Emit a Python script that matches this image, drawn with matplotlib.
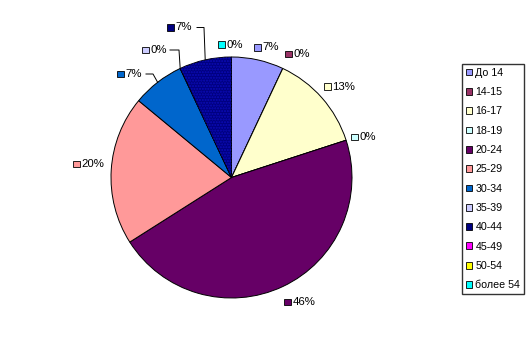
import matplotlib
matplotlib.use("Agg")
import matplotlib.pyplot as plt
from matplotlib.patches import Patch, Wedge
import numpy as np

categories = ["До 14", "14-15", "16-17", "18-19", "20-24", "25-29",
              "30-34", "35-39", "40-44", "45-49", "50-54", "более 54"]
values = [7, 0, 13, 0, 46, 20, 7, 0, 7, 0, 0, 0]
colors = ["#9999FF", "#993366", "#FFFFCC", "#CCFFFF", "#660066", "#FF9999",
          "#0066CC", "#CCCCFF", "#000080", "#FF00FF", "#FFFF00", "#00FFFF"]
# labels shown (45-49 and 50-54 labels hidden in original)
show_label = [True, True, True, True, True, True, True, True, True, False, False, True]

W, H = 531, 357
plt.rcParams['font.family'] = ['Liberation Sans', 'DejaVu Sans']
fig = plt.figure(figsize=(W / 100, H / 100), dpi=100)
cx, cy, R = 231.5, 177.5, 120.5
ax = fig.add_axes([(cx - R) / W, (H - cy - R) / H, 2 * R / W, 2 * R / H])

wedges, _ = ax.pie(values, colors=colors, startangle=90, counterclock=False,
                   radius=1.0, wedgeprops=dict(edgecolor='black', linewidth=0.7))
ax.set_aspect('auto')
ax.set_xlim(-1, 1)
ax.set_ylim(-1, 1)
ax.axis('off')

# dither pattern on 40-44
w = wedges[8]
overlay = Wedge((0, 0), 1.0, w.theta1, w.theta2, facecolor='none',
                edgecolor='#0c0cB8', hatch='......', linewidth=0)
ax.add_patch(overlay)
w.set_zorder(1)
overlay.set_zorder(1.5)

def px2d(px, py):
    return (px - cx) / R, (cy - py) / R

# label anchor positions (left edge of key square, vertical center) in pixels
label_pos = {
    0: (254, 47.5),
    1: (285, 54),
    2: (324, 86.5),
    3: (351, 137),
    4: (284, 302),
    5: (73, 164),
    6: (117, 74),
    7: (142, 50),
    8: (167, 27.5),
    11: (218, 44.5),
}
# leader lines for pulled labels: (label end x, elbow x)
leaders = {6: (146, 153), 7: (170, 179), 8: (197, 204)}

fs = 8.2
for i, (v, show) in enumerate(zip(values, show_label)):
    if not show:
        continue
    lx, ly = label_pos[i]
    x0, y0 = px2d(lx, ly)
    sq = 6.5 / R
    ax.add_patch(plt.Rectangle((x0, y0 - sq / 2), sq, sq, facecolor=colors[i],
                               edgecolor='black', linewidth=0.6, clip_on=False, zorder=6))
    ax.text(x0 + 8.5 / R, y0, f"{v}%", fontsize=fs, va='center', ha='left',
            clip_on=False, zorder=6)
    if i in leaders:
        ex, elb = leaders[i]
        wi = wedges[i]
        mid = np.deg2rad((wi.theta1 + wi.theta2) / 2)
        tx, ty = np.cos(mid), np.sin(mid)
        a = px2d(ex, ly)
        b = px2d(elb, ly)
        ax.plot([a[0], b[0], tx], [a[1], b[1], ty], color='black',
                linewidth=0.7, clip_on=False, zorder=4)

handles = [Patch(facecolor=c, edgecolor='black', linewidth=0.6) for c in colors]
leg = fig.legend(handles, categories, loc='upper left',
                 bbox_to_anchor=(462 / W, 1 - 64 / H), fontsize=7.7,
                 frameon=True, fancybox=False, shadow=False,
                 handlelength=0.6, handleheight=0.6, handletextpad=0.3,
                 labelspacing=0.87, borderpad=0.36, borderaxespad=0)
leg.get_frame().set_edgecolor('black')
leg.get_frame().set_linewidth(1.0)

fig.savefig("out.png", dpi=100)
